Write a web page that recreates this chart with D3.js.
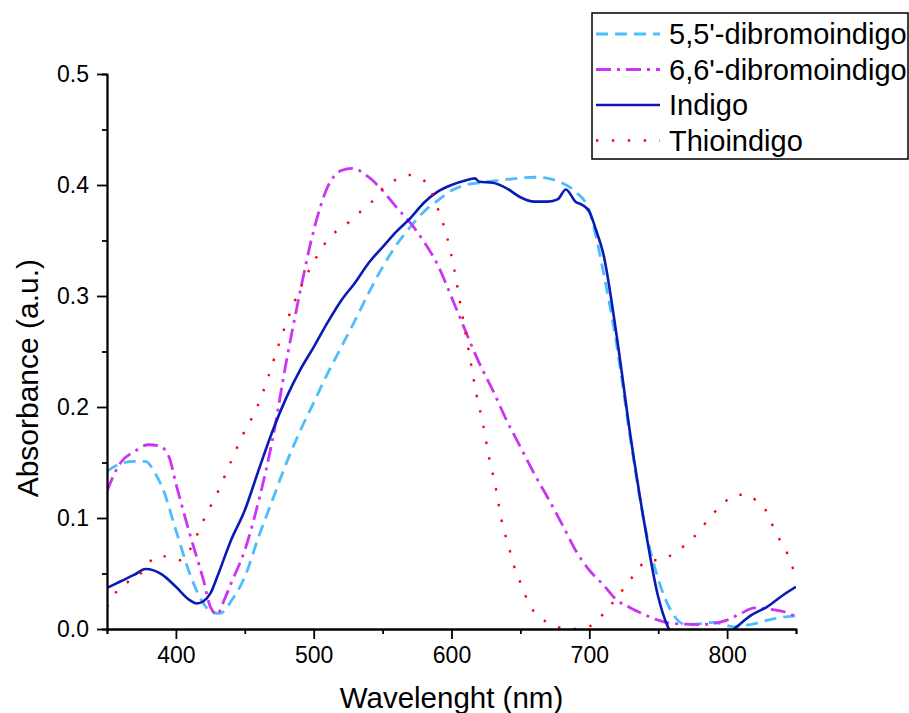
<!DOCTYPE html>
<html>
<head>
<meta charset="utf-8">
<script src="https://cdn.jsdelivr.net/npm/d3@7"></script>
<style>
  body { margin: 0; background: #fff; }
  svg { display: block; font-family: Arial, "Liberation Sans", sans-serif; }
</style>
</head>
<body>
<div id="wrapper"></div>
<script>
// 1. Access data
const dibromo55Wavelength = [350,360,370,378,385,390,400,410,420,425,432,440,450,460,470,480,490,500,510,520,530,540,550,560,570,580,590,600,610,620,640,660,670,680,690,700,705,710,720,730,740,750,760,770,783,790,805,817,833,850]
const dibromo55Absorbance = [0.142,0.149,0.151,0.151,0.140,0.128,0.089,0.050,0.023,0.016,0.014,0.025,0.047,0.083,0.116,0.149,0.178,0.204,0.230,0.254,0.278,0.303,0.326,0.346,0.362,0.376,0.386,0.395,0.400,0.402,0.405,0.407,0.406,0.402,0.394,0.377,0.353,0.323,0.255,0.170,0.095,0.045,0.015,0.004,0.005,0.006,0.002,0.004,0.009,0.012]

const dibromo66Wavelength = [350,355,360,370,380,388,395,400,410,420,425,430,435,440,450,460,470,480,490,500,510,520,528,540,550,560,570,580,590,600,610,620,630,640,650,660,670,680,690,700,710,720,730,740,750,760,780,790,800,810,820,830,840,850]
const dibromo66Absorbance = [0.124,0.139,0.150,0.160,0.166,0.165,0.155,0.131,0.086,0.044,0.020,0.013,0.026,0.041,0.071,0.115,0.170,0.240,0.303,0.359,0.398,0.413,0.415,0.407,0.395,0.380,0.366,0.349,0.328,0.299,0.269,0.240,0.215,0.188,0.164,0.140,0.118,0.095,0.071,0.053,0.040,0.026,0.019,0.013,0.008,0.005,0.004,0.005,0.008,0.014,0.019,0.018,0.016,0.011]

const indigoWavelength = [350,360,370,378,390,400,410,415,420,425,430,440,450,460,470,480,490,500,510,520,530,540,550,560,570,580,590,600,610,617,620,630,640,650,660,670,677,683,690,695,700,705,710,720,730,740,750,757,765,780,795,807,817,829,840,850]
const indigoAbsorbance = [0.037,0.043,0.049,0.054,0.049,0.038,0.026,0.023,0.025,0.032,0.047,0.080,0.107,0.143,0.178,0.208,0.233,0.254,0.276,0.296,0.312,0.330,0.344,0.358,0.370,0.384,0.394,0.400,0.404,0.406,0.403,0.402,0.397,0.389,0.385,0.385,0.387,0.396,0.385,0.382,0.376,0.359,0.339,0.263,0.173,0.095,0.029,0.002,-0.010,-0.015,-0.010,0.002,0.012,0.020,0.030,0.038]

const thioWavelength = [350,359,366,373,379,386,395,403,410,420,431,440,449,459,467,474,482,491,502,508,517,526,534,543,550,560,569,580,586,590,594,597,602,606,610,614,618,623,627,632,636,642,645,649,653,658,667,676,687,697,706,713,720,727,734,742,752,761,769,776,784,790,798,806,816,822,828,832,837,842,846,850]
const thioAbsorbance = [0.020,0.037,0.043,0.048,0.057,0.066,0.065,0.062,0.071,0.098,0.125,0.151,0.176,0.200,0.227,0.254,0.282,0.309,0.335,0.347,0.359,0.367,0.376,0.386,0.397,0.405,0.409,0.404,0.392,0.379,0.365,0.352,0.324,0.296,0.268,0.240,0.212,0.184,0.156,0.128,0.100,0.072,0.058,0.045,0.032,0.019,0.008,0.002,0.000,0.001,0.008,0.018,0.028,0.040,0.051,0.062,0.062,0.068,0.075,0.083,0.095,0.104,0.114,0.121,0.121,0.114,0.107,0.096,0.083,0.073,0.060,0.048]

const seriesNames = ["5,5'-dibromoindigo", "6,6'-dibromoindigo", "Indigo", "Thioindigo"]
const xTicks = [400, 500, 600, 700, 800]
const yTicks = [0.0, 0.1, 0.2, 0.3, 0.4, 0.5]

const series = [
    { name: seriesNames[0], x: dibromo55Wavelength, y: dibromo55Absorbance, color: "#4dbdfb", width: 2.8, dash: "12 7" },
    { name: seriesNames[1], x: dibromo66Wavelength, y: dibromo66Absorbance, color: "#cc33f5", width: 2.8, dash: "15 6 3 6" },
    { name: seriesNames[2], x: indigoWavelength, y: indigoAbsorbance, color: "#0a1ab5", width: 2.6, dash: null },
    { name: seriesNames[3], x: thioWavelength, y: thioAbsorbance, color: "#ff0000", width: 2.4, dash: "2.4 13.5" },
]

const xAccessor = d => d[0]
const yAccessor = d => d[1]

// 2. Create chart dimensions
let dimensions = {
    width: 909,
    height: 713,
    margin: {
        top: 74,
        right: 113,
        bottom: 84,
        left: 107,
    },
}
dimensions.boundedWidth = dimensions.width
    - dimensions.margin.left
    - dimensions.margin.right
dimensions.boundedHeight = dimensions.height
    - dimensions.margin.top
    - dimensions.margin.bottom

// 3. Draw canvas
const wrapper = d3.select("#wrapper")
    .append("svg")
    .attr("width", dimensions.width)
    .attr("height", dimensions.height)

const bounds = wrapper.append("g")
    .attr("transform", `translate(${dimensions.margin.left},${dimensions.margin.top})`)

bounds.append("clipPath")
    .attr("id", "plot-clip")
    .append("rect")
    .attr("width", dimensions.boundedWidth)
    .attr("height", dimensions.boundedHeight)

// 4. Create scales
const xScale = d3.scaleLinear()
    .domain([350, 850])
    .range([0, dimensions.boundedWidth])

const yScale = d3.scaleLinear()
    .domain([0, 0.5])
    .range([dimensions.boundedHeight, 0])

// 5. Draw data
const lineGenerator = d3.line()
    .x(d => xScale(xAccessor(d)))
    .y(d => yScale(yAccessor(d)))
    .curve(d3.curveMonotoneX)

bounds.append("g")
    .attr("clip-path", "url(#plot-clip)")
    .selectAll("path")
    .data(series)
    .join("path")
    .attr("d", s => lineGenerator(d3.zip(s.x, s.y)))
    .attr("fill", "none")
    .attr("stroke", s => s.color)
    .attr("stroke-width", s => s.width)
    .attr("stroke-dasharray", s => s.dash)
    .attr("stroke-linejoin", "round")

// 6. Draw peripherals
const xMinor = d3.axisBottom(xScale)
    .tickValues(d3.range(350, 851, 100))
    .tickSize(5)
    .tickFormat("")
const xAxisGenerator = d3.axisBottom(xScale)
    .tickValues(xTicks)
    .tickSize(10)
    .tickPadding(8)
    .tickSizeOuter(0)

const yMinor = d3.axisLeft(yScale)
    .tickValues(d3.range(0.05, 0.5, 0.1))
    .tickSize(5)
    .tickFormat("")
const yAxisGenerator = d3.axisLeft(yScale)
    .tickValues(yTicks)
    .tickSize(10)
    .tickPadding(8)
    .tickSizeOuter(0)
    .tickFormat(d3.format(".1f"))

const xAxis = bounds.append("g")
    .attr("transform", `translate(0,${dimensions.boundedHeight})`)
xAxis.append("g").call(xMinor)
xAxis.append("g").call(xAxisGenerator)

const yAxis = bounds.append("g")
yAxis.append("g").call(yMinor)
yAxis.append("g").call(yAxisGenerator)

wrapper.selectAll(".domain, .tick line")
    .attr("stroke", "#000")
    .attr("stroke-width", 1.8)
wrapper.selectAll(".tick text")
    .attr("fill", "#000")
    .style("font-family", "Arial, 'Liberation Sans', sans-serif")
    .style("font-size", "23px")

bounds.append("text")
    .attr("x", dimensions.boundedWidth / 2)
    .attr("y", dimensions.boundedHeight + 79)
    .attr("text-anchor", "middle")
    .style("font-size", "29.5px")
    .text("Wavelenght (nm)")

bounds.append("text")
    .attr("transform", `translate(${-dimensions.margin.left + 38},${yScale(0.226)}) rotate(-90)`)
    .attr("text-anchor", "middle")
    .style("font-size", "30px")
    .text("Absorbance (a.u.)")

// legend
const legend = wrapper.append("g")
    .attr("transform", "translate(592,13)")

legend.append("rect")
    .attr("width", 316)
    .attr("height", 146)
    .attr("fill", "#fff")
    .attr("stroke", "#000")
    .attr("stroke-width", 1.5)

const legendRow = legend.selectAll(".row")
    .data(series)
    .join("g")
    .attr("class", "row")
    .attr("transform", (d, i) => `translate(0,${21 + i * 35.5})`)

legendRow.append("line")
    .attr("x1", 4)
    .attr("x2", 68)
    .attr("stroke", s => s.color)
    .attr("stroke-width", s => s.width)
    .attr("stroke-dasharray", s => s.dash)

legendRow.append("text")
    .attr("x", 77)
    .attr("dy", "0.35em")
    .style("font-size", "29px")
    .text(s => s.name)
</script>
</body>
</html>
